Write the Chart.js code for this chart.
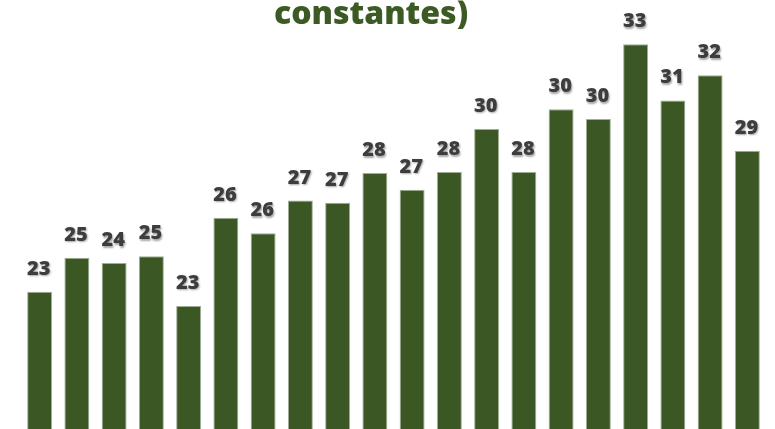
<!DOCTYPE html>
<html>
<head>
<meta charset="utf-8">
<script src="https://cdn.jsdelivr.net/npm/chart.js@4"></script>
<style>
html,body{margin:0;padding:0;background:#fff;overflow:hidden;}
#wrap{width:775px;height:429px;}
</style>
</head>
<body>
<div id="wrap"><canvas id="grafico" width="775" height="429"></canvas></div>
<script>
// periodos (sin etiquetas visibles en el recorte)
const periodos = ["1","2","3","4","5","6","7","8","9","10","11","12","13","14","15","16","17","18","19","20"]
const valores = [23.25,24.59,24.38,24.65,22.70,26.16,25.55,26.83,26.75,27.91,27.26,27.95,29.64,27.95,30.41,30.03,32.96,30.76,31.75,28.79]
const titulo = "constantes)"
const ejeMin = 17.87
const ejeMax = 34.70

const verde = "#3a5724"

const etiquetas = {
id:"etiquetas",
afterDatasetsDraw(chart){
const ctx = chart.ctx
const meta = chart.getDatasetMeta(0)
ctx.save()
ctx.font = "800 20px 'Open Sans'"
ctx.textAlign = "center"
ctx.textBaseline = "alphabetic"
ctx.fillStyle = "#3d3d3d"
ctx.shadowColor = "rgba(0,0,0,0.35)"
ctx.shadowOffsetX = 1
ctx.shadowOffsetY = 1.5
ctx.shadowBlur = 2
meta.data.forEach((bar,i) => {
ctx.fillText(Math.round(valores[i]), bar.x - 1, bar.y - 17)
})
ctx.restore()
}
}

const tituloPlugin = {
id:"tituloPlugin",
afterDraw(chart){
const ctx = chart.ctx
ctx.save()
ctx.font = "800 32px 'Open Sans'"
ctx.textAlign = "center"
ctx.fillStyle = "#3b5a24"
ctx.fillText(titulo, 371, 24)
ctx.restore()
}
}

new Chart(document.getElementById("grafico"),{
type:"bar",
data:{
labels:periodos,
datasets:[{
data:valores,
backgroundColor:verde,
borderColor:"rgba(150,165,140,0.9)",
borderWidth:1,
categoryPercentage:1,
barPercentage:0.67
}]
},
options:{
responsive:false,
animation:false,
layout:{padding:{left:21,right:9,top:0,bottom:0}},
plugins:{legend:{display:false},tooltip:{enabled:false}},
scales:{
x:{display:false},
y:{display:false,min:ejeMin,max:ejeMax}
}
},
plugins:[etiquetas,tituloPlugin]
})
</script>
</body>
</html>
